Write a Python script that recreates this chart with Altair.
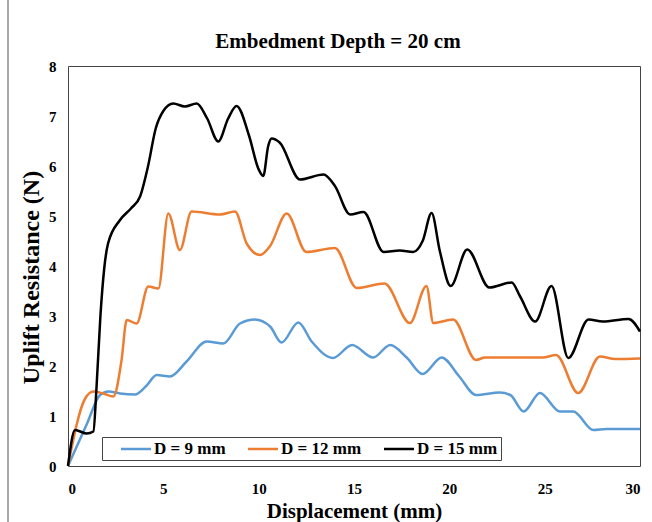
import altair as alt
import pandas as pd

chart_title = "Embedment Depth = 20 cm"
series_names = ["D = 9 mm", "D = 12 mm", "D = 15 mm"]
series_colors = ["#5B9BD5", "#ED7D31", "#000000"]

x9 = [0, 1.0, 1.68, 2.12, 2.73, 3.51, 4.1, 4.65, 5.35, 6.22, 7.27, 8.14, 9.02, 9.8, 10.6, 11.2,
      12.08, 12.78, 13.9, 14.9, 16.0, 16.9, 17.76, 18.6, 19.6, 20.5, 21.4, 22.65, 23.2, 23.9,
      24.75, 25.8, 26.5, 27.55, 28.25, 30]
y9 = [0, 0.85, 1.42, 1.49, 1.45, 1.43, 1.6, 1.82, 1.79, 2.09, 2.49, 2.45, 2.85, 2.93, 2.79, 2.47,
      2.87, 2.49, 2.16, 2.42, 2.17, 2.42, 2.17, 1.84, 2.17, 1.8, 1.42, 1.47, 1.42, 1.09,
      1.46, 1.09, 1.09, 0.72, 0.74, 0.74]

x12 = [0, 0.9, 1.33, 1.85, 2.38, 2.81, 3.08, 3.6, 4.21, 4.74, 5.26, 5.87, 6.48, 7.97, 8.76,
       9.37, 10.07, 10.6, 11.47, 12.5, 14.0, 15.14, 16.6, 17.93, 18.8, 19.16, 20.2, 21.4,
       21.87, 24.9, 25.6, 26.76, 27.9, 28.7, 30]
y12 = [0, 1.35, 1.49, 1.45, 1.39, 2.12, 2.92, 2.85, 3.59, 3.55, 5.05, 4.32, 5.09, 5.03, 5.09,
       4.45, 4.22, 4.4, 5.05, 4.28, 4.36, 3.56, 3.65, 2.86, 3.6, 2.86, 2.93, 2.12,
       2.17, 2.17, 2.22, 1.46, 2.19, 2.14, 2.15]

x15 = [0, 0.37, 0.98, 1.33, 1.5, 1.7, 1.9, 2.1, 2.73, 3.3, 3.78, 4.2, 4.6, 5.0, 5.52, 6.13,
       6.75, 7.3, 7.88, 8.4, 8.84, 9.5, 9.98, 10.24, 10.5, 10.68, 11.1, 12.17, 13.4, 14.0,
       14.8, 15.5, 16.55, 17.4, 18.1, 18.6, 19.07, 19.5, 20.07, 20.94, 22.1, 23.27, 23.7,
       24.5, 25.36, 26.24, 27.3, 28.05, 29.4, 30]
y15 = [0, 0.72, 0.65, 0.69, 1.6, 3.0, 3.95, 4.45, 4.92, 5.15, 5.39, 6.0, 6.75, 7.1, 7.25, 7.19,
       7.25, 6.95, 6.49, 6.95, 7.2, 6.6, 5.95, 5.8, 6.4, 6.55, 6.47, 5.73, 5.83, 5.6,
       5.03, 5.08, 4.28, 4.31, 4.28, 4.5, 5.06, 4.3, 3.6, 4.33, 3.57, 3.67, 3.4,
       2.89, 3.6, 2.16, 2.93, 2.89, 2.94, 2.69]

x_ticks = [0, 5, 10, 15, 20, 25, 30]
y_ticks = [0, 1, 2, 3, 4, 5, 6, 7, 8]

rows = []
for name, xs, ys in zip(series_names, [x9, x12, x15], [y9, y12, y15]):
    for i, (a, b) in enumerate(zip(xs, ys)):
        rows.append({"series": name, "x": a, "y": b, "order": i})
df = pd.DataFrame(rows)

FONT = "Liberation Serif"

lines = alt.Chart(df).mark_line(interpolate="monotone", strokeWidth=2.5).encode(
    x=alt.X("x:Q", scale=alt.Scale(domain=[0, 30], nice=False, zero=False),
            axis=alt.Axis(values=x_ticks, title="Displacement (mm)", grid=False, ticks=False,
                          domain=False, labelFont=FONT, labelFontWeight="bold", labelFontSize=15,
                          labelColor="#000", labelPadding=15, titleFont=FONT, titleFontSize=21,
                          titleFontWeight="bold", titleColor="#000", titlePadding=4)),
    y=alt.Y("y:Q", scale=alt.Scale(domain=[0, 8], nice=False),
            axis=alt.Axis(values=y_ticks, title="Uplift Resistance (N)", grid=False, ticks=False,
                          domain=False, labelFont=FONT, labelFontWeight="bold", labelFontSize=15,
                          labelColor="#000", labelPadding=12, titleFont=FONT, titleFontSize=24,
                          titleFontWeight="bold", titleColor="#000", titlePadding=5, titleY=211)),
    color=alt.Color("series:N", scale=alt.Scale(domain=series_names, range=series_colors),
                    sort=series_names,
                    legend=alt.Legend(title=None, orient="none", legendX=34, legendY=371,
                                      direction="horizontal", symbolType="M-2,0H2",
                                      symbolSize=225, symbolStrokeWidth=2.5,
                                      labelFont=FONT, labelFontWeight="bold", labelFontSize=17,
                                      labelColor="#000", labelOffset=9, columnPadding=6,
                                      padding=3, strokeColor="#444", fillColor="#fff",
                                      symbolOffset=22)),
    order="order:Q",
)

title_mark = alt.Chart(pd.DataFrame({"t": [chart_title]})).mark_text(
    font=FONT, fontSize=21, fontWeight="bold", color="#000", align="center", baseline="middle"
).encode(x=alt.value(270), y=alt.value(-24), text="t:N")

frame = alt.Chart(pd.DataFrame({"k": [0]})).mark_rule(color="#555", strokeWidth=1).encode(
    x=alt.value(-60), y=alt.value(-70), y2=alt.value(460)
)

chart = alt.layer(frame, title_mark, lines).properties(
    width=572, height=400,
    padding={"left": 68, "top": 66, "right": 12, "bottom": 56},
    autosize=alt.AutoSizeParams(type="none"),
).configure_view(stroke="#444", strokeWidth=1)

chart.save("out.html", embed_options={"renderer": "svg", "actions": False})
